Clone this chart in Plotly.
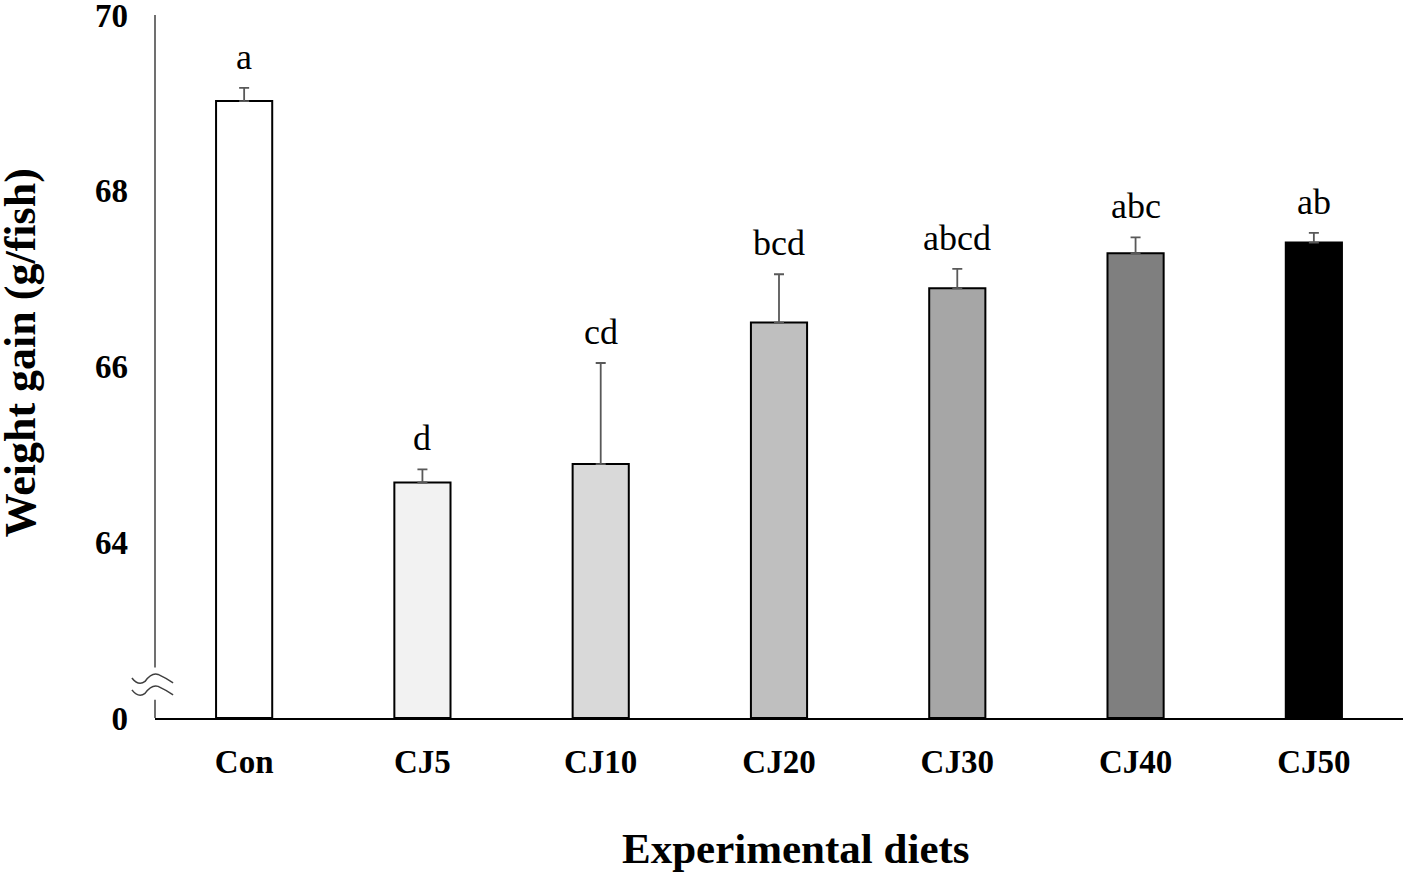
import plotly.graph_objects as go

# Data (axis is broken: values below 64 collapsed, base label "0")
diets = ['Con', 'CJ5', 'CJ10', 'CJ20', 'CJ30', 'CJ40', 'CJ50']
weight_gain = [69.02, 64.68, 64.89, 66.50, 66.89, 67.29, 67.41]
sd = [0.15, 0.15, 1.15, 0.55, 0.22, 0.18, 0.11]
letters = ['a', 'd', 'cd', 'bcd', 'abcd', 'abc', 'ab']
bar_colors = ['#ffffff', '#f2f2f2', '#d9d9d9', '#bfbfbf', '#a6a6a6', '#7f7f7f', '#000000']

axis_base = 62
tick_vals = [62, 64, 66, 68, 70]
tick_text = ['0', '64', '66', '68', '70']

font_family = 'Liberation Serif'

fig = go.Figure()

fig.add_trace(go.Bar(
    x=diets,
    y=[v - axis_base for v in weight_gain],
    base=axis_base,
    width=0.315,
    marker=dict(color=bar_colors, line=dict(color='black', width=2)),
    error_y=dict(type='data', array=sd, arrayminus=[0] * len(sd),
                 symmetric=False, color='#595959', thickness=1.8, width=5),
    hoverinfo='skip',
))

# significance letters above error bars
for d, v, e, lab in zip(diets, weight_gain, sd, letters):
    fig.add_annotation(
        x=d, y=v + e, text=lab, showarrow=False,
        yanchor='bottom', yshift=9,
        font=dict(family=font_family, size=36, color='black'),
    )

# axis titles as annotations (they sit a bit off-centre in the original)
fig.add_annotation(
    text='Weight gain (g/fish)', xref='paper', yref='paper',
    x=-0.108, y=0.519, textangle=-90, showarrow=False,
    xanchor='center', yanchor='middle',
    font=dict(family=font_family, size=44, color='black', weight='bold'),
)
fig.add_annotation(
    text='Experimental diets', xref='paper', yref='paper',
    x=0.514, y=-0.185, showarrow=False,
    xanchor='center', yanchor='middle',
    font=dict(family=font_family, size=43, color='black', weight='bold'),
)

# y axis drawn by hand with a gap for the break
gap_top = 0.072
gap_bot = 0.026
fig.add_shape(type='line', xref='paper', yref='paper', x0=0, x1=0, y0=gap_top, y1=1,
              line=dict(color='#404040', width=1.5))
fig.add_shape(type='line', xref='paper', yref='paper', x0=0, x1=0, y0=0, y1=gap_bot,
              line=dict(color='#404040', width=1.5))

# break symbol (two small waves)
def wave(yc):
    x0, x1, x2, x3 = -0.0185, -0.008, 0.0025, 0.0145
    return (f'M {x0},{yc} Q {(x0 + x1) / 2},{yc - 0.012} {x1},{yc - 0.005} '
            f'Q {(x1 + x2) / 2},{yc + 0.008} {x2},{yc + 0.005} '
            f'Q {(x2 + x3) / 2},{yc} {x3},{yc - 0.007}')

for yc in [0.057, 0.040]:
    fig.add_shape(type='path', xref='paper', yref='paper', path=wave(yc),
                  line=dict(color='#404040', width=1.5))

fig.update_layout(
    width=1406,
    height=874,
    margin=dict(l=155, r=3, t=15, b=156),
    plot_bgcolor='white',
    paper_bgcolor='white',
    showlegend=False,
    xaxis=dict(
        showline=True, linecolor='black', linewidth=1.5,
        showgrid=False, ticks='', ticklabelstandoff=14, automargin=False,
        tickfont=dict(family=font_family, size=33, color='black', weight='bold'),
    ),
    yaxis=dict(
        range=[axis_base, 70],
        tickvals=tick_vals, ticktext=tick_text,
        showline=False, showgrid=False, zeroline=False, ticks='',
        ticklabelstandoff=26, ticklabeloverflow='allow', automargin=False,
        tickfont=dict(family=font_family, size=33, color='black', weight='bold'),
    ),
)

fig.write_html('out.html', config={'displayModeBar': False},
               post_script="document.body.style.margin='0';")
